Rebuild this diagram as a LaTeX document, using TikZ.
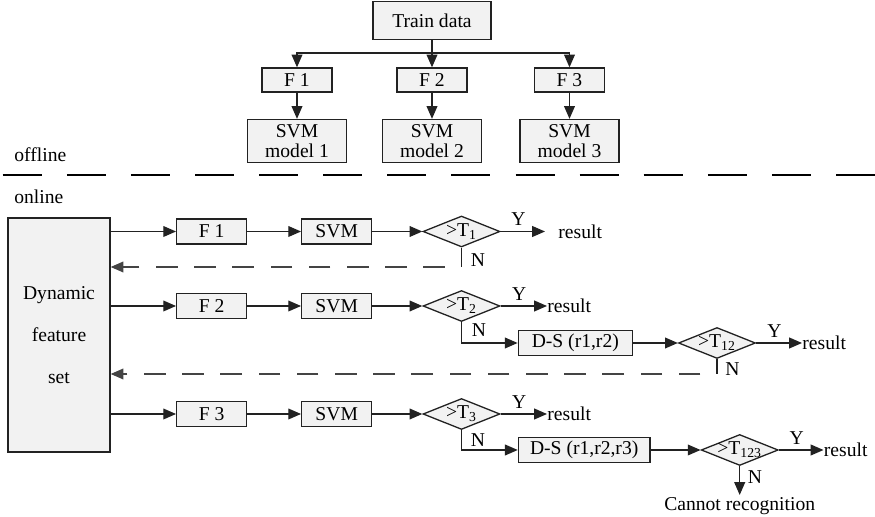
\documentclass[tikz,border=0pt]{standalone}
\usepackage{fontspec}
\setmainfont{Liberation Serif}
\usetikzlibrary{arrows.meta,shapes.geometric}
\definecolor{boxfill}{HTML}{F2F2F2}
\definecolor{linec}{HTML}{222222}
\definecolor{dashc}{HTML}{444444}
\begin{document}
\begin{tikzpicture}[x=0.5pt,y=-0.5pt,
  font=\fontsize{9.8}{10}\selectfont,
  box/.style={draw=linec, fill=boxfill, line width=0.65pt, inner sep=0pt, align=center},
  topf/.style={box, minimum width=35pt, minimum height=12pt},
  model/.style={box, minimum width=49.5pt, minimum height=21.5pt},
  rowbox/.style={box, minimum width=35pt, minimum height=12.5pt},
  dia/.style={draw=linec, fill=boxfill, line width=0.65pt, shape=diamond, inner sep=0pt,
    minimum width=38.5pt, minimum height=15.5pt},
  arr/.style={draw=linec, line width=0.65pt, -{Triangle[length=6.4pt,width=5.4pt]}},
  ln/.style={draw=linec, line width=0.65pt},
  dsh/.style={draw=dashc, line width=0.65pt, dash pattern=on 10.8pt off 8.3pt, dash phase=10.8pt,
    -{Triangle[length=6.4pt,width=5.4pt]}},
  lbl/.style={inner sep=0pt},
  yl/.style={above, pos=0.4, inner sep=2.5pt},
]
\useasboundingbox (0,0) rectangle (875,517);

% ---------- offline part ----------
\node[box, minimum width=59pt, minimum height=19pt] (train) at (432,20.5) {Train data};
\node[topf] (tf1) at (297,80) {F 1};
\node[topf] (tf2) at (432,80) {F 2};
\node[topf] (tf3) at (569.5,80) {F 3};
\node[model] (m1) at (297,141) {SVM\\model 1};
\node[model] (m2) at (432,141) {SVM\\model 2};
\node[model] (m3) at (569.5,141) {SVM\\model 3};
\coordinate (j) at (432,53);
\draw[ln] (train.south) -- (j);
\draw[arr] (j) -| (tf1.north);
\draw[arr] (j) -- (tf2.north);
\draw[arr] (j) -| (tf3.north);
\draw[arr] (tf1.south) -- (m1.north);
\draw[arr] (tf2.south) -- (m2.north);
\draw[arr] (tf3.south) -- (m3.north);

\node[lbl, anchor=base west] (off) at (14,162) {offline};
\node[lbl, anchor=base west] (on) at (14,204) {online};
\coordinate (sepL) at (2.7,175);
\coordinate (sepR) at (875,175);
\draw[draw=black, line width=1pt, dash pattern=on 19.5pt off 12.55pt] (sepL) -- (sepR);

% ---------- online part ----------
\node[box, minimum width=51pt, minimum height=117pt, font=\fontsize{9.8}{21}\selectfont] (dyn) at (59,335) {Dynamic\\feature\\set};

% row 1
\node[rowbox] (f1) at (211.7,231.5) {F 1};
\node[rowbox] (s1) at (336.7,231.5) {SVM};
\node[dia] (d1) at (461.5,231.5) {};
\node[lbl] (d1t) at (d1) {>T\textsubscript{1}};
\node[lbl, anchor=west] (r1) at (558,231.5) {result};
\draw[arr] (dyn.east |- f1.west) -- (f1.west);
\draw[arr] (f1) -- (s1);
\draw[arr] (s1) -- (d1);
\draw[arr] (d1.east) -- node[yl] {Y} ([xshift=-6.5pt]r1.west);
\coordinate (c1) at (461.5,267);
\draw[ln] (d1.south) -- (c1);
\draw[dsh] (c1) -- (dyn.east |- c1);
\node[lbl] (n1) at (478,260) {N};

% row 2
\node[rowbox] (f2) at (211.7,306) {F 2};
\node[rowbox] (s2) at (336.7,306) {SVM};
\node[dia] (d2) at (461.5,306) {};
\node[lbl] (d2t) at (d2) {>T\textsubscript{2}};
\node[lbl, anchor=west] (r2) at (547,306) {result};
\draw[arr] (dyn.east |- f2.west) -- (f2.west);
\draw[arr] (f2) -- (s2);
\draw[arr] (s2) -- (d2);
\draw[arr] (d2.east) -- node[yl] {Y} (r2.west);
\node[box, minimum width=57pt, minimum height=12.5pt] (ds2) at (575.3,343) {D-S (r1,r2)};
\draw[arr] (d2.south) |- (ds2.west);
\node[lbl] (n2) at (479,330) {N};
\node[dia] (d12) at (717,343) {};
\node[lbl] (d12t) at (d12) {>T\textsubscript{12}};
\draw[arr] (ds2) -- (d12);
\node[lbl, anchor=west] (r12) at (802,343) {result};
\draw[arr] (d12.east) -- node[yl] {Y} (r12.west);
\coordinate (c12) at (717,374);
\draw[ln] (d12.south) -- (c12);
\draw[dsh] (c12) -- (dyn.east |- c12);
\node[lbl] (n12) at (732.5,369.5) {N};

% row 3
\node[rowbox] (f3) at (211.7,414) {F 3};
\node[rowbox] (s3) at (336.7,414) {SVM};
\node[dia] (d3) at (461.5,414) {};
\node[lbl] (d3t) at (d3) {>T\textsubscript{3}};
\node[lbl, anchor=west] (r3) at (547,414) {result};
\draw[arr] (dyn.east |- f3.west) -- (f3.west);
\draw[arr] (f3) -- (s3);
\draw[arr] (s3) -- (d3);
\draw[arr] (d3.east) -- node[yl] {Y} (r3.west);
\node[box, minimum width=65.8pt, minimum height=12.5pt] (ds3) at (584.2,450) {D-S (r1,r2,r3)};
\draw[arr] (d3.south) |- (ds3.west);
\node[lbl] (n3) at (478,440) {N};
\node[dia] (d123) at (739.7,450) {};
\node[lbl] (d123t) at (d123) {>T\textsubscript{123}};
\draw[arr] (ds3) -- (d123);
\node[lbl, anchor=west] (r123) at (823.5,450) {result};
\draw[arr] (d123.east) -- node[yl] {Y} (r123.west);
\node[anchor=north, inner sep=1pt] (cannot) at (739.7,495) {Cannot recognition};
\draw[arr] (d123.south) -- (cannot.north);
\node[lbl] (n123) at (755,477) {N};
\end{tikzpicture}
\end{document}
